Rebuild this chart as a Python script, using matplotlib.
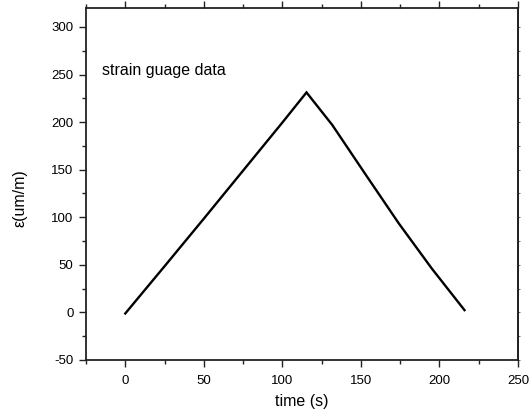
import numpy as np
import matplotlib.pyplot as plt
from matplotlib.ticker import MultipleLocator

plt.rcParams['font.family'] = ['Liberation Sans', 'DejaVu Sans']
plt.rcParams['axes.unicode_minus'] = False

# strain gauge trace
time_s = [0.0, 25, 50, 75, 100, 115.4, 131.8, 153.0, 174.1, 195.1, 216.0]
strain = [-1.1, 48.5, 98.5, 149, 199.5, 231.2, 197.0, 145.0, 93.7, 46.3, 2.4]

x_ticks = [0, 50, 100, 150, 200, 250]
y_ticks = [-50, 0, 50, 100, 150, 200, 250, 300]

fig = plt.figure(figsize=(5.29, 4.17), dpi=100)
ax = fig.add_axes([0.1626, 0.1367, 0.979 - 0.1626, 0.981 - 0.1367])

ax.plot(time_s, strain, color='black', linewidth=1.7, solid_joinstyle='miter')

ax.set_xlim(-25, 250)
ax.set_ylim(-50, 320)
ax.set_xticks(x_ticks)
ax.set_yticks(y_ticks)
ax.xaxis.set_minor_locator(MultipleLocator(25))
ax.yaxis.set_minor_locator(MultipleLocator(25))

for s in ax.spines.values():
    s.set_color('#222222')
    s.set_linewidth(1.3)

ax.tick_params(axis='x', which='major', direction='out', length=5, width=1.0,
               top=True, labelsize=9.5, color='#222222', pad=6)
ax.tick_params(axis='x', which='minor', direction='out', length=3, width=1.0,
               top=True, color='#222222')
ax.tick_params(axis='y', which='major', direction='out', length=5, width=1.0,
               labelsize=9.5, color='#222222', pad=4)
ax.tick_params(axis='y', which='minor', direction='out', length=3, width=1.0,
               color='#222222')

# short ticks on the right edge, no labels
ax_r = ax.secondary_yaxis('right')
ax_r.set_yticks(y_ticks)
ax_r.yaxis.set_minor_locator(MultipleLocator(25))
ax_r.tick_params(which='both', direction='out', length=1.5, width=0.7,
                 labelright=False, color='#666666')
ax_r.spines['right'].set_color('#222222')
ax_r.spines['right'].set_linewidth(1.3)

ax.set_xlabel('time (s)', fontsize=11.5, labelpad=5)
ax.set_ylabel('ε(um/m)', fontsize=11.5)
ax.yaxis.set_label_coords(-0.135, 0.46)

ax.text(-14.7, 250, 'strain guage data', fontsize=11.5, ha='left', va='baseline')

fig.savefig('out.png', dpi=100)
